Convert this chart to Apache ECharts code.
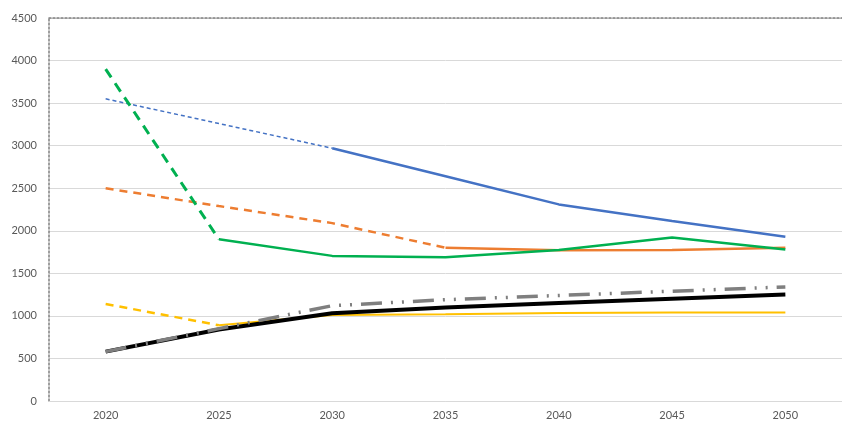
<!DOCTYPE html>
<html>
<head>
<meta charset="utf-8">
<script src="https://cdn.jsdelivr.net/npm/echarts@6/dist/echarts.min.js"></script>
<style>
  html, body { margin: 0; padding: 0; background: #fff; }
  #chart { width: 842px; height: 421px; }
</style>
</head>
<body>
<div id="chart"></div>
<script>
var years = ['2020', '2025', '2030', '2035', '2040', '2045', '2050'];

// dashed (early) and solid (later) parts of each line
var blueDash    = [3550, null, 2970, null, null, null, null];
var blueSolid   = [null, null, 2970, 2640, 2310, 2115, 1930];
var orangeDash  = [2500, 2290, 2090, 1800, null, null, null];
var orangeSolid = [null, null, null, 1800, 1770, 1775, 1800];
var greenDash   = [3900, 1900, null, null, null, null, null];
var greenSolid  = [null, 1900, 1705, 1690, 1775, 1920, 1780];
var yellowDash  = [1140, 890, null, null, null, null, null];
var yellowSolid = [null, 890, 1010, 1020, 1035, 1040, 1040];
var blackLine   = [580, 840, 1030, 1100, 1150, 1200, 1250];
var grayLine    = [580, 850, 1120, 1190, 1240, 1290, 1340];

var yTicks = { min: 0, max: 4500, interval: 500 };

var chart = echarts.init(document.getElementById('chart'));

function line(data, color, width, type) {
    return {
        type : 'line',
        data : data,
        symbol : 'none',
        connectNulls : true,
        xAxisIndex : 0,
        lineStyle : {
            color : color,
            width : width,
            type : type
        },
        z : 3
    };
}

var option = {
    animation : false,
    textStyle : {
        fontFamily : 'Lato'
    },
    grid : {
        left : 49,
        right : -5,
        top : 18,
        bottom : 20
    },
    xAxis : [ {
        type : 'category',
        data : years,
        boundaryGap : true,
        axisLine : {
            lineStyle : { color : '#d9d9d9', width : 1 }
        },
        axisTick : { show : false },
        axisLabel : {
            color : '#595959',
            fontSize : 11,
            margin : 9
        }
    }, {
        type : 'category',
        data : years,
        position : 'top',
        boundaryGap : true,
        axisLine : {
            show : true,
            lineStyle : { color : '#7f7f7f', width : 1.5, type : [2, 2] }
        },
        axisTick : { show : false },
        axisLabel : { show : false }
    } ],
    yAxis : {
        type : 'value',
        min : yTicks.min,
        max : yTicks.max,
        interval : yTicks.interval,
        axisLine : {
            show : true,
            lineStyle : { color : '#7f7f7f', width : 1.5, type : [2, 2] }
        },
        axisTick : { show : false },
        axisLabel : {
            color : '#595959',
            fontSize : 11,
            margin : 12,
            formatter : function(value) {
                return String(value);
            }
        },
        splitLine : {
            lineStyle : { color : '#d9d9d9', width : 1 }
        }
    },
    series : [
        line(blueDash, '#4472c4', 1.5, [4, 3]),
        line(blueSolid, '#4472c4', 2.5, 'solid'),
        line(orangeDash, '#ed7d31', 2.5, [8, 6]),
        line(orangeSolid, '#ed7d31', 2.5, 'solid'),
        line(greenDash, '#00b050', 3, [10, 7]),
        line(greenSolid, '#00b050', 2.5, 'solid'),
        line(yellowDash, '#ffc000', 2.5, [8, 6]),
        line(yellowSolid, '#ffc000', 2, 'solid'),
        line(blackLine, '#000000', 4, 'solid'),
        line(grayLine, '#7f7f7f', 3.5, [21, 9, 2, 9, 2, 9])
    ]
};
chart.setOption(option);
</script>
</body>
</html>
